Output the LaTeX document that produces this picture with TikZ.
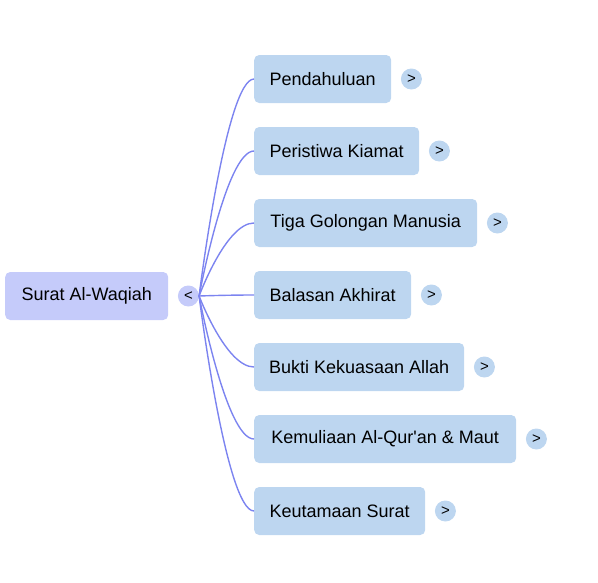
\documentclass[tikz,border=0pt]{standalone}
\usepackage{fontspec}
\setmainfont{Liberation Sans}
\definecolor{rootfill}{HTML}{C5CBFA}
\definecolor{kidfill}{HTML}{BDD6F0}
\definecolor{linkc}{HTML}{7C84F0}
\begin{document}
\begin{tikzpicture}[x=1pt,y=-1pt,
  rootbox/.style={draw=none,fill=rootfill,rounded corners=5pt,minimum height=48pt,minimum width=163pt,anchor=west,font=\fontsize{18}{21}\selectfont,inner sep=0pt},
  kidbox/.style={draw=none,fill=kidfill,rounded corners=5pt,minimum height=48pt,anchor=west,font=\fontsize{18}{21}\selectfont,inner sep=0pt},
  rootdot/.style={circle,fill=rootfill,minimum size=21pt,inner sep=0pt,font=\fontsize{15}{17}\selectfont},
  kiddot/.style={circle,fill=kidfill,minimum size=21pt,inner sep=0pt,font=\fontsize{15}{17}\selectfont},
  link/.style={draw=linkc,line width=1.4pt}]
\useasboundingbox (0,0) rectangle (598,582);
\node[rootbox] (root) at (5,296) {Surat Al-Waqiah};
\node[rootdot] (rc) at ([xshift=20pt]root.east) {<};
\foreach \i/\y/\w/\t in {
  1/79/137/Pendahuluan,
  2/151/165/Peristiwa Kiamat,
  3/223/223/Tiga Golongan Manusia,
  4/295/157/Balasan Akhirat,
  5/367/210/Bukti Kekuasaan Allah,
  6/439/262/Kemuliaan Al-Qur\textquotesingle an \& Maut,
  7/511/171/Keutamaan Surat}{
  \node[kidbox,minimum width=\w pt] (k\i) at (254,\y) {\t};
  \node[kiddot] (d\i) at ([xshift=20pt]k\i.east) {>};
  \draw[link] (rc.east) .. controls (rc.east) and ([xshift=-28pt]k\i.west) .. (k\i.west);
}
\end{tikzpicture}
\end{document}
